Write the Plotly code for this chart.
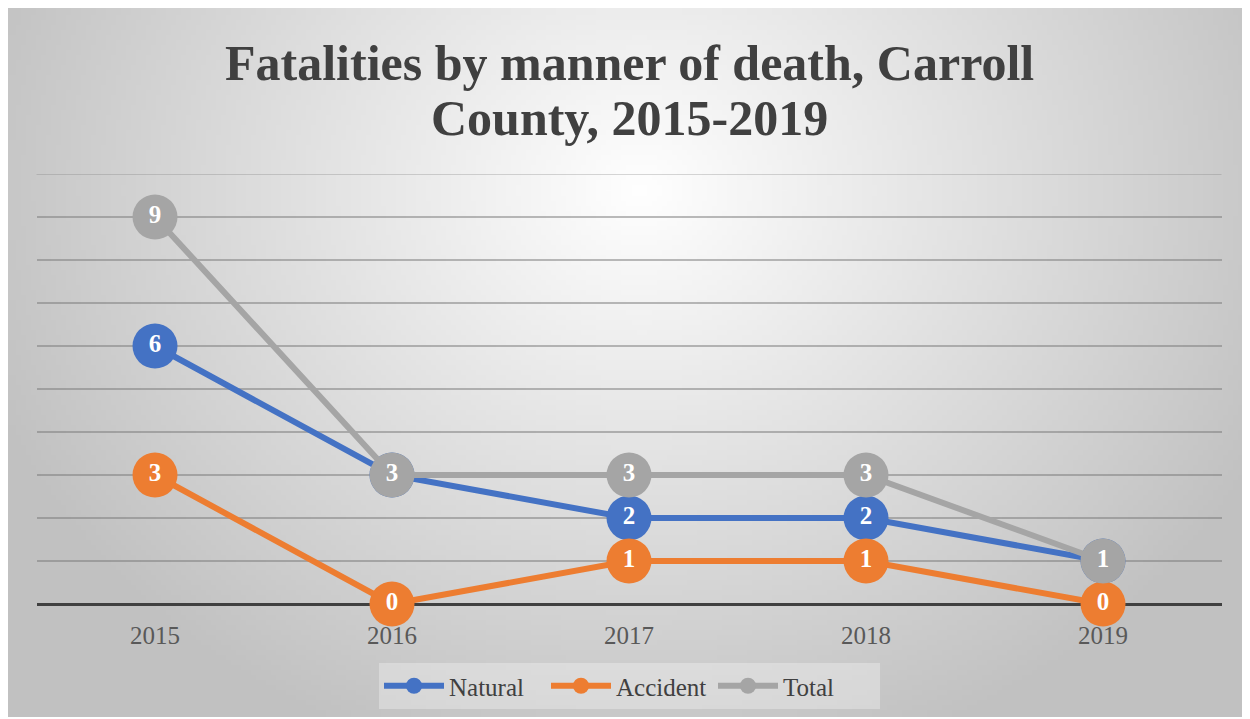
import plotly.graph_objects as go
import zlib, struct, base64, math

years = ["2015", "2016", "2017", "2018", "2019"]
natural = [6, 3, 2, 2, 1]
accident = [3, 0, 1, 1, 0]
total = [9, 3, 3, 3, 1]

series = [("Natural", natural, "#4472C4"),
          ("Accident", accident, "#ED7D31"),
          ("Total", total, "#A5A5A5")]

W, H = 1242, 709
OFF = 8  # page body margin


def fx(px):  # reference x pixel -> paper fraction
    return (px - OFF) / W


def fy(py):  # reference y pixel -> paper fraction
    return 1 - (py - OFF) / H


# radial gradient background image (pure python PNG)
def make_png(w, h):
    rows = []
    for j in range(h):
        y = (j + 0.5) / h * H + OFF
        row = bytearray([0])
        for i in range(w):
            x = (i + 0.5) / w * W + OFF
            d = math.sqrt(((x - 640) / 700) ** 2 + ((y - 190) / 600) ** 2)
            c = int(255 - 62 * min(1.0, d))
            row += bytes([c, c, c])
        rows.append(bytes(row))
    raw = b"".join(rows)

    def chunk(t, data):
        return struct.pack(">I", len(data)) + t + data + struct.pack(">I", zlib.crc32(t + data) & 0xffffffff)
    png = b"\x89PNG\r\n\x1a\n" + chunk(b"IHDR", struct.pack(">IIBBBBB", w, h, 8, 2, 0, 0, 0)) \
        + chunk(b"IDAT", zlib.compress(raw, 9)) + chunk(b"IEND", b"")
    return "data:image/png;base64," + base64.b64encode(png).decode()


bg = make_png(248, 142)

fig = go.Figure()
for name, vals, col in series:
    fig.add_trace(go.Scatter(
        x=years, y=vals, name=name, mode="lines+markers+text",
        line=dict(color=col, width=6),
        marker=dict(color=col, size=45),
        text=[str(v) for v in vals], textposition="middle center",
        textfont=dict(family="Liberation Serif", size=25, color="white", weight="bold"),
        cliponaxis=False,
    ))

fig.add_layout_image(dict(source=bg, xref="paper", yref="paper",
                          x=0, y=1, sizex=1, sizey=1,
                          xanchor="left", yanchor="top", sizing="stretch", layer="below"))

# top gridline (value 10) at the plot edge
fig.add_shape(type="line", xref="paper", yref="y", x0=fx(36.5), x1=fx(1221.5), y0=10, y1=10,
              line=dict(color="rgba(120,120,120,0.4)", width=1.5), layer="below")

title_lines = ["Fatalities by manner of death, Carroll", "County, 2015-2019"]
for line, yc in zip(title_lines, [63, 118]):
    fig.add_annotation(text="<b>" + line + "</b>",
                       xref="paper", yref="paper", x=fx(629.5), y=fy(yc),
                       xanchor="center", yanchor="middle", showarrow=False,
                       font=dict(family="Liberation Serif", size=50, color="#404040"))

fig.update_layout(
    width=W, height=H,
    margin=dict(l=0, r=0, t=0, b=0),
    paper_bgcolor="white", plot_bgcolor="rgba(0,0,0,0)",
    showlegend=True,
    legend=dict(orientation="h", x=fx(629.5), xanchor="center", y=fy(663), yanchor="top",
                bgcolor="rgba(255,255,255,0.3)",
                font=dict(family="Liberation Serif", size=25, color="#404040"),
                itemwidth=60, entrywidth=92, entrywidthmode="pixels",
                traceorder="normal"),
    xaxis=dict(domain=[fx(36.5), fx(1221.5)], range=[-0.5, 4.5], showgrid=False,
               showline=False, zeroline=False, ticks="outside", ticklen=9,
               tickcolor="rgba(0,0,0,0)",
               tickfont=dict(family="Liberation Serif", size=25, color="#595959")),
    yaxis=dict(domain=[fy(604), fy(174)], range=[0, 10], dtick=1, tick0=0,
               showticklabels=False, showgrid=True, gridcolor="rgba(120,120,120,0.5)",
               gridwidth=1.5, zeroline=True, zerolinecolor="#404040", zerolinewidth=3),
)

fig.write_html("out.html")
